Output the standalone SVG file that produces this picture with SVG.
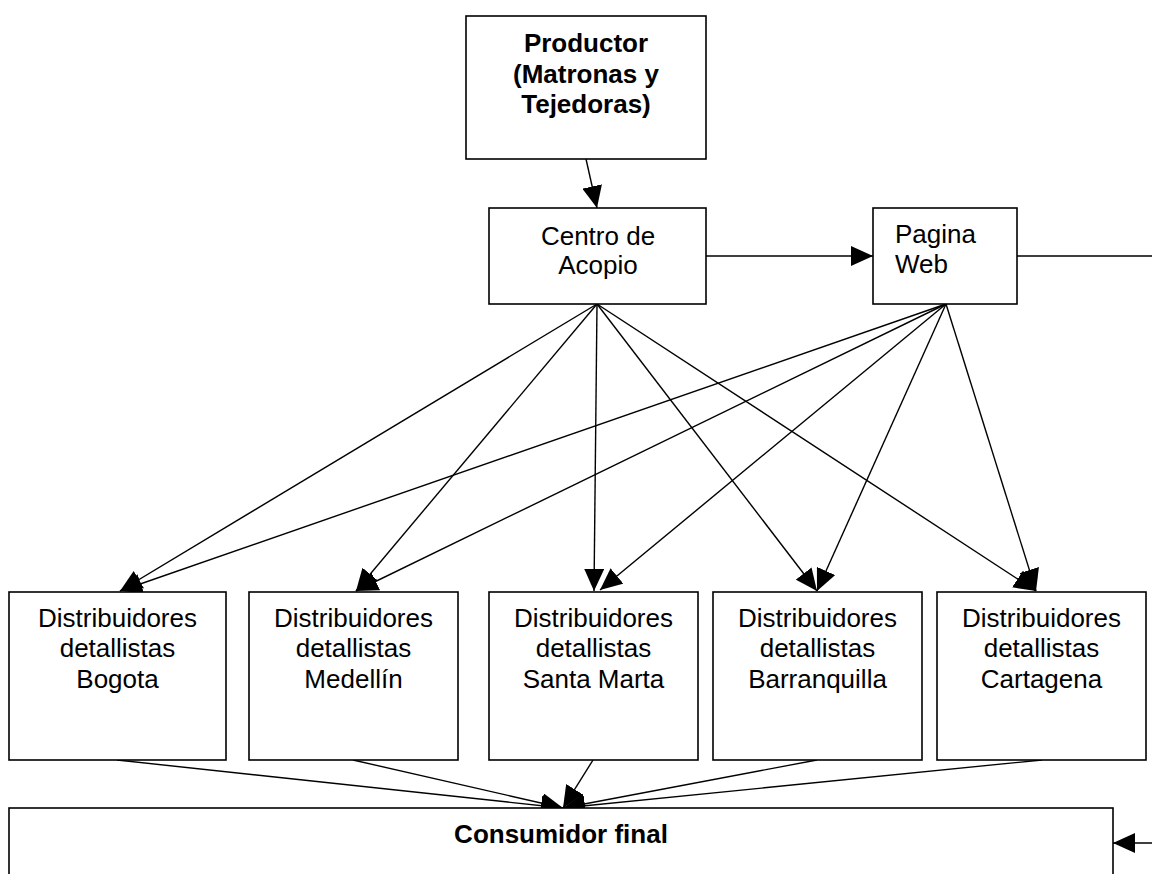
<svg xmlns="http://www.w3.org/2000/svg" width="1152" height="874" viewBox="0 0 1152 874">
<style>
.box{fill:#fff;stroke:#000;stroke-width:1.6}
.t{font-family:"Liberation Sans",Arial,sans-serif;font-size:26px;fill:#000}
.c{text-anchor:middle}
.b{font-weight:bold}
.ln{fill:none;stroke:#000;stroke-width:1.4;marker-end:url(#ah)}
</style>
<defs>
<marker id="ah" markerUnits="userSpaceOnUse" markerWidth="22" markerHeight="20" refX="22" refY="10" orient="auto" viewBox="0 0 22 20">
<path d="M0,0 L22,10 L0,20 z" fill="#000"/>
</marker>
</defs>
<rect width="1152" height="874" fill="#fff"/>
<g id="connectors">
<line class="ln" x1="586" y1="159" x2="597" y2="208"/>
<line class="ln" x1="706" y1="256" x2="873" y2="256"/>
<line class="ln" x1="597" y1="304" x2="120" y2="591"/>
<line class="ln" x1="597" y1="304" x2="356" y2="591"/>
<line class="ln" x1="597" y1="304" x2="594" y2="591"/>
<line class="ln" x1="597" y1="304" x2="817" y2="591"/>
<line class="ln" x1="597" y1="304" x2="1036" y2="591"/>
<line class="ln" x1="946" y1="304" x2="120" y2="591"/>
<line class="ln" x1="946" y1="304" x2="356" y2="591"/>
<line class="ln" x1="946" y1="304" x2="600" y2="590"/>
<line class="ln" x1="946" y1="304" x2="817" y2="591"/>
<line class="ln" x1="946" y1="304" x2="1036" y2="591"/>
<line class="ln" x1="117" y1="760" x2="563" y2="808"/>
<line class="ln" x1="353" y1="760" x2="563" y2="808"/>
<line class="ln" x1="593" y1="760" x2="563" y2="808"/>
<line class="ln" x1="817" y1="760" x2="563" y2="808"/>
<line class="ln" x1="1042" y1="760" x2="563" y2="808"/>
<path class="ln" d="M1017,256 H1170 V843 H1113"/>
</g>
<g id="productor">
<rect class="box" x="466" y="16" width="240" height="143"/>
<text class="t c b" x="586" y="52">Productor</text>
<text class="t c b" x="586" y="83">(Matronas y</text>
<text class="t c b" x="586" y="113">Tejedoras)</text>
</g>
<g id="centro">
<rect class="box" x="489" y="208" width="217" height="96"/>
<text class="t c" x="598" y="245">Centro de</text>
<text class="t c" x="598" y="274">Acopio</text>
</g>
<g id="pagina">
<rect class="box" x="873" y="208" width="144" height="96"/>
<text class="t" x="895" y="243">Pagina</text>
<text class="t" x="895" y="273">Web</text>
</g>
<g id="bogota">
<rect class="box" x="9" y="592" width="217" height="168"/>
<text class="t c" x="117.5" y="627">Distribuidores</text>
<text class="t c" x="117.5" y="657">detallistas</text>
<text class="t c" x="117.5" y="688">Bogota</text>
</g>
<g id="medellin">
<rect class="box" x="249" y="592" width="209" height="168"/>
<text class="t c" x="353.5" y="627">Distribuidores</text>
<text class="t c" x="353.5" y="657">detallistas</text>
<text class="t c" x="353.5" y="688">Medellín</text>
</g>
<g id="santamarta">
<rect class="box" x="489" y="592" width="209" height="168"/>
<text class="t c" x="593.5" y="627">Distribuidores</text>
<text class="t c" x="593.5" y="657">detallistas</text>
<text class="t c" x="593.5" y="688">Santa Marta</text>
</g>
<g id="barranquilla">
<rect class="box" x="713" y="592" width="209" height="168"/>
<text class="t c" x="817.5" y="627">Distribuidores</text>
<text class="t c" x="817.5" y="657">detallistas</text>
<text class="t c" x="817.5" y="688">Barranquilla</text>
</g>
<g id="cartagena">
<rect class="box" x="937" y="592" width="209" height="168"/>
<text class="t c" x="1041.5" y="627">Distribuidores</text>
<text class="t c" x="1041.5" y="657">detallistas</text>
<text class="t c" x="1041.5" y="688">Cartagena</text>
</g>
<g id="consumidor">
<rect class="box" x="9" y="808" width="1104" height="80"/>
<text class="t c b" x="561" y="843">Consumidor final</text>
</g>
</svg>
